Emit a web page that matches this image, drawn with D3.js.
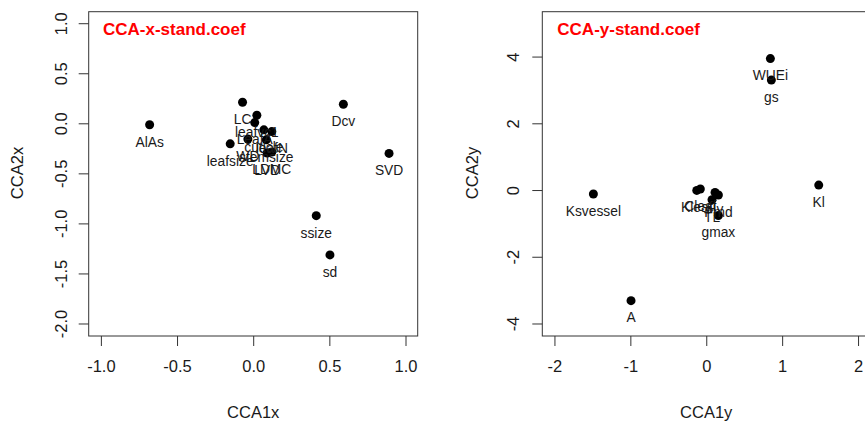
<!DOCTYPE html>
<html><head><meta charset="utf-8">
<script src="https://cdn.jsdelivr.net/npm/d3@7"></script>
<style>body{margin:0;background:#fff}svg{display:block}text{font-family:"Liberation Sans",Arial,sans-serif}</style>
</head><body>
<script>
// Left panel: CCA-x-stand.coef
const xNames = ["AlAs","Dcv","SVD","ssize","sd","LC","leafvc1","LeafA","cuticle","leafN","leafsize","WD","stemsize","LVD","LDMC"];
const xCCA1 = [-0.68,0.592,0.892,0.414,0.504,-0.07,0.024,0.01,0.07,0.122,-0.151,-0.035,0.086,0.092,0.122];
const xCCA2 = [-0.01,0.195,-0.296,-0.918,-1.31,0.215,0.085,0.012,-0.06,-0.078,-0.2,-0.153,-0.16,-0.292,-0.282];
// Right panel: CCA-y-stand.coef
const yNames = ["WUEi","gs","Kl","Ksvessel","A","Kleaf","Cleaf","Hv","Pmd","TL","gmax"];
const yCCA1 = [0.845,0.858,1.482,-1.487,-0.991,-0.125,-0.078,0.116,0.16,0.076,0.16];
const yCCA2 = [3.955,3.31,0.164,-0.105,-3.30,0.003,0.045,-0.057,-0.135,-0.275,-0.75];
// Ticks
const leftXTicks = [-1.0,-0.5,0.0,0.5,1.0];
const leftYTicks = [-2.0,-1.5,-1.0,-0.5,0.0,0.5,1.0];
const rightXTicks = [-2,-1,0,1,2];
const rightYTicks = [-4,-2,0,2,4];

const svg = d3.select("body").append("svg").attr("width",865).attr("height",423);
const hy = f => d => f(d).replace("\u2212","-");

function panel(opt){
  const g = svg.append("g");
  const x = d3.scaleLinear().domain(opt.xd).range([opt.x0,opt.x1]);
  const y = d3.scaleLinear().domain(opt.yd).range([336,11.7]);
  g.append("rect").attr("x",opt.x0).attr("y",11.7).attr("width",opt.x1-opt.x0).attr("height",336-11.7)
    .attr("fill","none").attr("stroke","#333").attr("stroke-width",1);
  const xa = g.append("g").attr("transform","translate(0,336)")
    .call(d3.axisBottom(x).tickValues(opt.xt).tickSize(10).tickPadding(14).tickFormat(opt.xf));
  xa.select(".domain").remove();
  xa.selectAll("line").attr("stroke","#333");
  xa.selectAll("text").attr("font-size","16.5px").attr("fill","#1a1a1a").attr("font-family","Liberation Sans, Arial, sans-serif");
  const ya = g.append("g")
    .call(d3.axisLeft(y).tickValues(opt.yt).tickSize(10).tickFormat(opt.yf));
  ya.select(".domain").remove();
  ya.selectAll(".tick").attr("transform",null);
  ya.selectAll(".tick line").attr("stroke","#333").attr("x1",opt.x0).attr("x2",opt.x0-10).attr("y1",d=>y(d)).attr("y2",d=>y(d));
  ya.selectAll(".tick text").attr("font-size","16.5px").attr("fill","#1a1a1a").attr("font-family","Liberation Sans, Arial, sans-serif")
    .attr("x",0).attr("y",0).attr("dy","0.35em").attr("text-anchor","middle")
    .attr("transform",d=>`translate(${opt.ylx},${y(d)}) rotate(-90)`);
  // points
  const data = opt.names.map((n,i)=>({n,a:opt.c1[i],b:opt.c2[i]}));
  g.selectAll("circle.pt").data(data).enter().append("circle")
    .attr("cx",d=>x(d.a)).attr("cy",d=>y(d.b)).attr("r",4.5).attr("fill","#000");
  g.selectAll("text.lab").data(data).enter().append("text")
    .attr("x",d=>x(d.a)).attr("y",d=>y(d.b)+17).attr("dy","0.35em")
    .attr("text-anchor","middle").attr("font-size","13.8px").attr("fill","#1a1a1a").text(d=>d.n);
  g.append("text").attr("x",opt.tx).attr("y",29).attr("dy","0.35em").attr("fill","#ff0000")
    .attr("font-weight","bold").attr("font-size","17px").text(opt.title);
  g.append("text").attr("x",(x(opt.xt[0])+x(opt.xt[opt.xt.length-1]))/2).attr("y",412).attr("dy","0.35em")
    .attr("text-anchor","middle").attr("font-size","16.5px").attr("fill","#1a1a1a").text(opt.xl);
  g.append("text").attr("transform",`translate(${opt.ylabx},173) rotate(-90)`).attr("dy","0.35em")
    .attr("text-anchor","middle").attr("font-size","16.5px").attr("fill","#1a1a1a").text(opt.yl);
}

panel({xd:[-1.08,1.08],yd:[-2.12,1.12],x0:88.7,x1:417.7,xt:leftXTicks,yt:leftYTicks,
  xf:hy(d3.format(".1f")),yf:hy(d3.format(".1f")),ylx:61.7,names:xNames,c1:xCCA1,c2:xCCA2,
  title:"CCA-x-stand.coef",tx:103,xl:"CCA1x",yl:"CCA2x",ylabx:17});
panel({xd:[-2.16,2.16],yd:[-4.36,5.36],x0:542.3,x1:870.2,xt:rightXTicks,yt:rightYTicks,
  xf:hy(d3.format("d")),yf:hy(d3.format("d")),ylx:513.7,names:yNames,c1:yCCA1,c2:yCCA2,
  title:"CCA-y-stand.coef",tx:557.3,xl:"CCA1y",yl:"CCA2y",ylabx:472});
</script>
</body></html>
